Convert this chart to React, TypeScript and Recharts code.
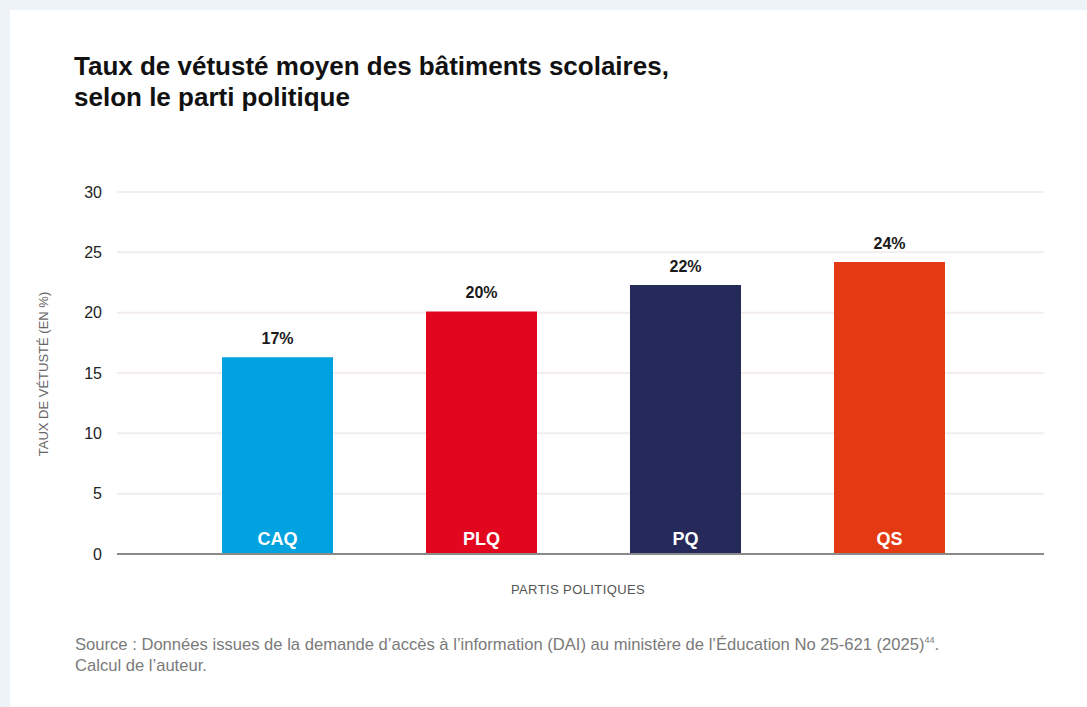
import React from 'react'
import { BarChart, Bar, XAxis, YAxis, CartesianGrid, Cell, LabelList } from 'recharts'

// Parties politiques et taux de vétusté moyen
const PARTIES = ['CAQ', 'PLQ', 'PQ', 'QS']
const RATES = [16.3, 20.1, 22.3, 24.2]
const RATE_LABELS = ['17%', '20%', '22%', '24%']
const PARTY_COLORS = ['#00a3e0', '#e2061e', '#262a5a', '#e43a14']
const Y_TICKS = [0, 5, 10, 15, 20, 25, 30]

const FONT = '"Liberation Sans", Arial, Helvetica, sans-serif'

const data = PARTIES.map((party, i) => ({
  party,
  rate: RATES[i],
  label: RATE_LABELS[i],
}))

export default function App() {
  return (
    <div
      style={{
        position: 'absolute',
        left: 0,
        top: 0,
        width: 1087,
        height: 707,
        background: '#eef3f8',
        overflow: 'hidden',
        fontFamily: FONT,
      }}
    >
      <div
        style={{
          position: 'absolute',
          left: 10,
          top: 10,
          width: 1077,
          height: 697,
          background: '#ffffff',
        }}
      />
      <div
        style={{
          position: 'absolute',
          left: 74,
          top: 51,
          fontSize: 26,
          fontWeight: 700,
          lineHeight: '31px',
          color: '#111111',
          whiteSpace: 'nowrap',
        }}
      >
        Taux de vétusté moyen des bâtiments scolaires,
        <br />
        selon le parti politique
      </div>

      <div
        style={{
          position: 'absolute',
          left: 43,
          top: 374,
          transform: 'translate(-50%, -50%) rotate(-90deg)',
          whiteSpace: 'nowrap',
          fontSize: 13,
          color: '#666666',
        }}
      >
        TAUX DE VÉTUSTÉ (EN %)
      </div>

      <div
        style={{
          position: 'absolute',
          left: 578,
          top: 589,
          transform: 'translate(-50%, -50%)',
          whiteSpace: 'nowrap',
          fontSize: 13,
          letterSpacing: 0.4,
          color: '#555555',
        }}
      >
        PARTIS POLITIQUES
      </div>

      <div
        style={{
          position: 'absolute',
          left: 75,
          top: 630,
          fontSize: 16.6,
          lineHeight: '21px',
          color: '#7a7a7a',
          whiteSpace: 'nowrap',
        }}
      >
        Source : Données issues de la demande d’accès à l’information (DAI) au ministère de l’Éducation No 25-621 (2025)
        <sup style={{ fontSize: 9 }}>44</sup>.
        <br />
        Calcul de l’auteur.
      </div>

      <div style={{ position: 'absolute', left: 0, top: 0 }}>
        <BarChart
          width={1087}
          height={707}
          data={data}
          margin={{ top: 192, right: 43, bottom: 152, left: 57 }}
        >
          <CartesianGrid horizontal vertical={false} stroke="#f3eded" strokeWidth={2} />
          <XAxis
            dataKey="party"
            tick={false}
            tickLine={false}
            axisLine={{ stroke: '#8a8a8a', strokeWidth: 2 }}
            height={1}
            padding={{ left: 58, right: 53 }}
          />
          <YAxis
            width={60}
            domain={[0, 30]}
            ticks={Y_TICKS}
            interval={0}
            axisLine={false}
            tickLine={false}
            tickSize={6}
            tickMargin={9}
            tick={{ fill: '#222222', fontSize: 16, fontFamily: FONT }}
          />
          <Bar dataKey="rate" barSize={111} isAnimationActive={false}>
            {data.map((d, i) => (
              <Cell key={d.party} fill={PARTY_COLORS[i]} />
            ))}
            <LabelList
              dataKey="label"
              position="top"
              offset={13}
              fill="#1a1a1a"
              fontSize={16}
              fontWeight={700}
              fontFamily={FONT}
            />
            <LabelList
              dataKey="party"
              position="insideBottom"
              offset={9}
              fill="#ffffff"
              fontSize={18}
              fontWeight={700}
              fontFamily={FONT}
            />
          </Bar>
        </BarChart>
      </div>
    </div>
  )
}
